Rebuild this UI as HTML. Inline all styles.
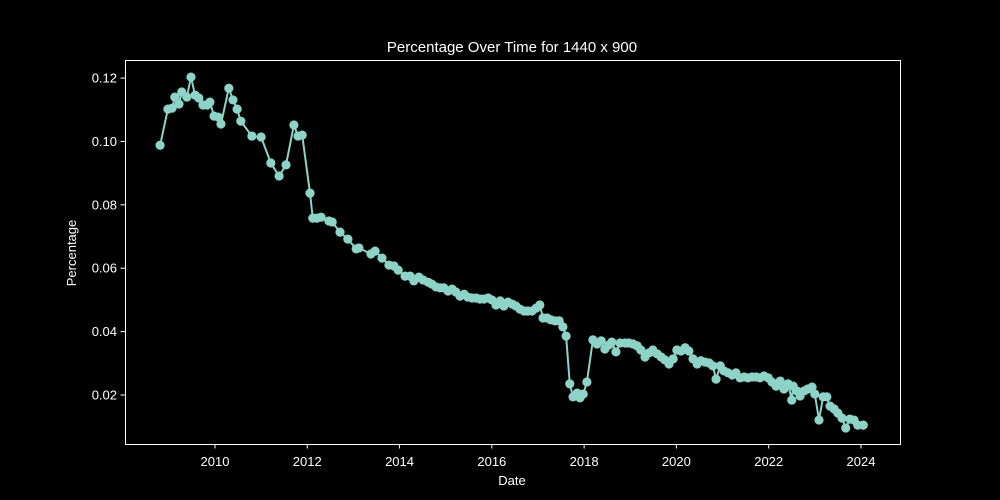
<!DOCTYPE html>
<html><head><meta charset="utf-8"><style>
html,body{margin:0;background:#000;overflow:hidden;}
svg{display:block;}
svg text{font-family:"Liberation Sans","DejaVu Sans",sans-serif;fill:#fff;}
</style></head><body>
<svg id="chart" width="1000" height="500" xmlns="http://www.w3.org/2000/svg">
<rect width="1000" height="500" fill="#000"/>
<text x="512" y="52" font-size="15" text-anchor="middle">Percentage Over Time for 1440 x 900</text>
<g id="axes"></g>
<g id="series"></g>
<rect x="125.5" y="60.5" width="775" height="384" fill="none" stroke="#fff" stroke-width="1"/>
<text x="512" y="485" font-size="13" text-anchor="middle">Date</text>
<text x="0" y="0" font-size="13" text-anchor="middle" transform="translate(76,253) rotate(-90)">Percentage</text>
</svg>
<script>
const dates=[2008.81,2008.98,2009.07,2009.13,2009.22,2009.28,2009.39,2009.48,2009.57,2009.65,2009.74,2009.83,2009.89,2009.98,2010.07,2010.13,2010.30,2010.39,2010.48,2010.56,2010.80,2011.00,2011.21,2011.39,2011.54,2011.71,2011.80,2011.89,2012.06,2012.12,2012.21,2012.30,2012.47,2012.54,2012.71,2012.88,2013.06,2013.12,2013.38,2013.47,2013.62,2013.77,2013.88,2013.97,2014.12,2014.23,2014.31,2014.42,2014.51,2014.62,2014.70,2014.79,2014.88,2014.96,2015.05,2015.14,2015.22,2015.31,2015.40,2015.48,2015.57,2015.66,2015.74,2015.83,2015.92,2016.00,2016.09,2016.18,2016.26,2016.35,2016.44,2016.52,2016.61,2016.70,2016.78,2016.87,2016.96,2017.04,2017.11,2017.20,2017.28,2017.37,2017.46,2017.54,2017.61,2017.69,2017.76,2017.85,2017.91,2017.98,2018.06,2018.19,2018.28,2018.37,2018.45,2018.54,2018.60,2018.69,2018.78,2018.89,2018.97,2019.06,2019.15,2019.23,2019.32,2019.41,2019.49,2019.58,2019.67,2019.75,2019.84,2019.93,2020.01,2020.10,2020.19,2020.27,2020.36,2020.45,2020.53,2020.62,2020.71,2020.79,2020.86,2020.95,2021.03,2021.12,2021.21,2021.29,2021.38,2021.47,2021.55,2021.64,2021.73,2021.81,2021.90,2021.99,2022.07,2022.16,2022.25,2022.33,2022.42,2022.50,2022.53,2022.61,2022.68,2022.77,2022.85,2022.94,2023.00,2023.09,2023.18,2023.26,2023.33,2023.42,2023.50,2023.59,2023.67,2023.76,2023.85,2023.93,2024.05];
const values=[0.0988,0.1102,0.1105,0.1140,0.1118,0.1156,0.1140,0.1203,0.1146,0.1137,0.1115,0.1115,0.1124,0.1080,0.1077,0.1055,0.1168,0.1131,0.1102,0.1064,0.1017,0.1014,0.0932,0.0891,0.0926,0.1052,0.1017,0.1020,0.0837,0.0758,0.0758,0.0761,0.0749,0.0746,0.0714,0.0692,0.0661,0.0664,0.0645,0.0654,0.0632,0.0610,0.0607,0.0594,0.0575,0.0575,0.0560,0.0572,0.0563,0.0556,0.0550,0.0541,0.0538,0.0538,0.0528,0.0534,0.0525,0.0512,0.0518,0.0509,0.0506,0.0506,0.0503,0.0503,0.0506,0.0500,0.0484,0.0497,0.0481,0.0493,0.0487,0.0481,0.0471,0.0465,0.0465,0.0465,0.0474,0.0484,0.0443,0.0443,0.0437,0.0434,0.0434,0.0415,0.0386,0.0235,0.0194,0.0206,0.0191,0.0203,0.0241,0.0374,0.0361,0.0371,0.0345,0.0358,0.0367,0.0336,0.0364,0.0364,0.0364,0.0361,0.0355,0.0342,0.0320,0.0333,0.0342,0.0330,0.0320,0.0311,0.0298,0.0314,0.0342,0.0339,0.0349,0.0339,0.0314,0.0298,0.0308,0.0304,0.0301,0.0292,0.0250,0.0292,0.0276,0.0270,0.0263,0.0270,0.0254,0.0257,0.0254,0.0257,0.0257,0.0254,0.0260,0.0254,0.0241,0.0228,0.0244,0.0219,0.0235,0.0184,0.0228,0.0213,0.0197,0.0213,0.0219,0.0225,0.0203,0.0121,0.0194,0.0194,0.0165,0.0156,0.0143,0.0127,0.0096,0.0124,0.0121,0.0105,0.0105];
const xTicks=[2010,2012,2014,2016,2018,2020,2022,2024];
const yTicks=[0.02,0.04,0.06,0.08,0.10,0.12];
const NS='http://www.w3.org/2000/svg';
const X0=125,X1=900,Y0=444,Y1=60;
const xMin=2008.05,xMax=2024.846,yMin=0.00454,yMax=0.1257;
function xs(v){return X0+(v-xMin)/(xMax-xMin)*(X1-X0);}
function ys(v){return Y0-(v-yMin)/(yMax-yMin)*(Y0-Y1);}
function mk(t,a){const e=document.createElementNS(NS,t);for(const k in a)e.setAttribute(k,a[k]);return e;}
const axes=document.getElementById('axes');
xTicks.forEach(t=>{
 const x=xs(t);
 const l=mk('line',{x1:x,x2:x,y1:444,y2:448.5,stroke:'#fff','stroke-width':1});
 
 
 axes.appendChild(l);
 const tx=mk('text',{x:x,y:466,'font-size':13,'text-anchor':'middle'});
 tx.textContent=t;
 
 
 axes.appendChild(tx);
});
yTicks.forEach(t=>{
 const y=ys(t);
 const l=mk('line',{x1:120.5,x2:125,y1:y,y2:y,stroke:'#fff','stroke-width':1});
 
 
 axes.appendChild(l);
 const tx=mk('text',{x:117,y:y+4.5,'font-size':13,'text-anchor':'end'});
 tx.textContent=t.toFixed(2);
 
 
 axes.appendChild(tx);
});
const g=document.getElementById('series');
const pts=dates.map((d,i)=>xs(d).toFixed(1)+','+ys(values[i]).toFixed(1)).join(' ');
const pl=mk('polyline',{points:pts,fill:'none',stroke:'#8dd3c7','stroke-width':2,'stroke-linejoin':'round'});


g.appendChild(pl);
dates.forEach((d,i)=>{
 const c=mk('circle',{cx:xs(d),cy:ys(values[i]),r:4.6,fill:'#8dd3c7'});
 
 
 g.appendChild(c);
});
</script>
</body></html>
